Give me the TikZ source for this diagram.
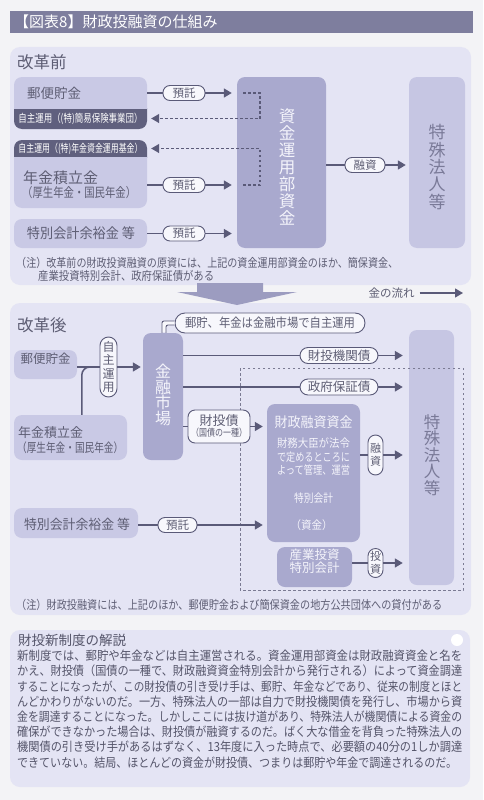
\documentclass[tikz,border=0pt]{standalone}
\usepackage{fontspec}
\usepackage{graphicx}
\setmainfont{Noto Sans CJK JP}
\usetikzlibrary{arrows.meta,fit}
\definecolor{cBg}{HTML}{F3F3F6}
\definecolor{cTitle}{HTML}{7E7E9E}
\definecolor{cPanel}{HTML}{E4E4F4}
\definecolor{cLight}{HTML}{C9C9E5}
\definecolor{cTok}{HTML}{C6C6E3}
\definecolor{cDark}{HTML}{A9A9CE}
\definecolor{cBand}{HTML}{60607E}
\definecolor{cLine}{HTML}{5A5A78}
\definecolor{cText}{HTML}{5E5E74}
\definecolor{cBody}{HTML}{55556A}
\definecolor{cWhiteT}{HTML}{F4F4FB}
\definecolor{cTokT}{HTML}{7A7A98}
\definecolor{cOval}{HTML}{F7F7FC}
\definecolor{cBig}{HTML}{9C9CC0}
\newcommand\fsz[2]{\fontsize{#1}{#2}\selectfont}
\newcommand\sq[2]{\resizebox{#1}{\height}{#2}}
\begin{document}
\begin{tikzpicture}[x=1pt,y=-1pt,
  lbox/.style={fill=cLight, rounded corners=8pt, inner sep=0pt, text=cText},
  dbox/.style={fill=cDark, rounded corners=8pt, inner sep=0pt, text=cWhiteT},
  txt/.style={inner sep=0pt, text=cText},
  oval/.style={draw=cLine, fill=cOval, line width=0.9pt, rounded corners=7pt, inner sep=0pt, text=cText},
  conn/.style={draw=cLine, line width=1.5pt},
  flow/.style={conn, -{Triangle[length=8pt,width=9pt]}},
  back/.style={draw=cLine, line width=1.2pt, dash pattern=on 2.5pt off 2.5pt, -{Triangle[length=8pt,width=9pt]}},
  vert/.style={align=center, inner sep=0pt}]
\useasboundingbox (0,0) rectangle (483,800);
\fill[cBg] (0,0) rectangle (483,800);

% title
\node[fill=cTitle, fit={(10,11) (473,33)}, inner sep=0pt] (titlebar) {};
\node[anchor=west, inner sep=0pt, text=white, font=\fsz{15}{16}] (title) at (14,22) {【図表8】財政投融資の仕組み};

% ===== before panel
\fill[cPanel, rounded corners=10pt] (10,47) rectangle (471,285);
\node[txt, anchor=west, font=\fsz{16.5}{18}] (mae) at (17,62) {改革前};

% yubin (before)
\begin{scope}\clip (10,108) rectangle (150,132); \fill[cBand, rounded corners=8pt] (14,77) rectangle (147,129);\end{scope}
\begin{scope}\clip (10,74) rectangle (150,108); \fill[cLight, rounded corners=8pt] (14,77) rectangle (147,129);\end{scope}
\node[fit={(14,77) (147,108)}, inner sep=0pt] (yubinA) {};
\node[txt, anchor=west, font=\fsz{13.5}{15}] (yubinAt) at (27,93) {郵便貯金};
\node[fit={(14,108) (147,129)}, inner sep=0pt] (band1) {};
\node[txt, text=white] (band1t) at (80.5,118.5) {\sq{124pt}{\fsz{11}{12}自主運用（(特)簡易保険事業団）}};

% nenkin (before)
\begin{scope}\clip (10,137) rectangle (150,157); \fill[cBand, rounded corners=8pt] (14,140) rectangle (147,208);\end{scope}
\begin{scope}\clip (10,157) rectangle (150,211); \fill[cLight, rounded corners=8pt] (14,140) rectangle (147,208);\end{scope}
\node[fit={(14,140) (147,157)}, inner sep=0pt] (band2) {};
\node[txt, text=white] (band2t) at (80.5,148.5) {\sq{124pt}{\fsz{11}{12}自主運用（(特)年金資金運用基金）}};
\node[fit={(14,157) (147,208)}, inner sep=0pt] (nenkinA) {};
\node[txt, anchor=west, font=\fsz{15}{16}] (nenkinAt1) at (23,178) {年金積立金};
\node[txt, anchor=west] (nenkinAt2) at (22,192.5) {\sq{114pt}{\fsz{13}{14}（厚生年金・国民年金）}};

% tokubetsu (before)
\node[lbox, fit={(14,219) (147,248)}] (tokA) {};
\node[txt] (tokAt) at (81,233.5) {\sq{108pt}{\fsz{14}{15}特別会計余裕金 等}};

% central and right boxes
\node[dbox, fit={(237,77) (326,248)}] (shikin) {};
\node[vert, text=cWhiteT, font=\fsz{16.5}{17}] (shikint) at (287,167) {資\\金\\運\\用\\部\\資\\金};
\node[lbox, fill=cTok, fit={(409,77) (465,248)}] (tokuA) {};
\node[vert, text=cTokT, font=\fsz{17}{17.3}] (tokuAt) at (437,167) {特\\殊\\法\\人\\等};

% deposit arrows
\node[oval, minimum width=42pt, minimum height=15pt, font=\fsz{11.5}{12}] (ytk1) at (184,93) {預託};
\node[oval, minimum width=42pt, minimum height=15pt, font=\fsz{11.5}{12}] (ytk2) at (184,185) {預託};
\node[oval, minimum width=42pt, minimum height=15pt, font=\fsz{11.5}{12}] (ytk3) at (184,233.5) {預託};
\draw[conn] (yubinA.east |- ytk1) -- (ytk1.west);
\draw[flow, shorten >=5pt] (ytk1.east) -- (ytk1.east -| shikin.west);
\draw[conn] (nenkinA.east |- ytk2) -- (ytk2.west);
\draw[flow, shorten >=5pt] (ytk2.east) -- (ytk2.east -| shikin.west);
\draw[conn] (tokA.east |- ytk3) -- (ytk3.west);
\draw[flow, shorten >=5pt] (ytk3.east) -- (ytk3.east -| shikin.west);

% dashed return arrows
\coordinate (dA) at (243,93);
\coordinate (dB) at (243,185);
\coordinate (dX) at (260,0);
\draw[back, shorten >=4pt] (dA) -| (dX |- band1.east) -- (band1.east);
\draw[back, shorten >=4pt] (dB) -| (dX |- band2.east) -- (band2.east);

% yushi
\node[oval, minimum width=40pt, minimum height=15pt, font=\fsz{11.5}{12}] (yus1) at (365,165) {融資};
\draw[conn] (shikin.east |- yus1) -- (yus1.west);
\draw[flow, shorten >=3pt] (yus1.east) -- (yus1.east -| tokuA.west);

% note before
\node[txt, anchor=west] (note1) at (16,263) {\sq{382pt}{\fsz{12}{13}（注）改革前の財政投資融資の原資には、上記の資金運用部資金のほか、簡保資金、}};
\node[txt, anchor=west] (note2) at (38,275.5) {\sq{176pt}{\fsz{12}{13}産業投資特別会計、政府保証債がある}};

% ===== after panel
\fill[cPanel, rounded corners=10pt] (10,303) rectangle (471,615);

% big arrow
\fill[cBig] (197,283) -- (263,283) -- (263,292) -- (297,292) -- (237,305) -- (177,292) -- (197,292) -- cycle;

% legend
\node[txt, font=\fsz{11.5}{12}] (legend) at (391.5,293) {金の流れ};
\coordinate (legEnd) at (463,293);
\draw[conn, line width=1.3pt, -{Triangle[length=8pt,width=9pt]}] ([xshift=5pt]legend.east) -- (legEnd);

\node[txt, anchor=west, font=\fsz{16.5}{18}] (go) at (17,325) {改革後};

% market
\node[dbox, fit={(143,333) (183,460)}] (market) {};
\node[vert, text=cWhiteT, font=\fsz{16}{15.5}] (markett) at (163,395) {金\\融\\市\\場};

% callout
\node[oval, minimum width=190pt, minimum height=20pt, rounded corners=10pt] (callout) at (270,323) {\sq{170pt}{\fsz{12.5}{13}郵貯、年金は金融市場で自主運用}};
\fill[cOval] ([xshift=-1pt,yshift=1pt]market.north) |- ([yshift=2pt]callout.west) -- ([yshift=-2pt]callout.west) -| ([xshift=3pt,yshift=1pt]market.north) -- cycle;
\draw[cLine, line width=0.9pt, rounded corners=2pt] ([xshift=-1pt]market.north) |- ([yshift=2pt]callout.west);
\draw[cLine, line width=0.9pt, rounded corners=2pt] ([xshift=3pt]market.north) |- ([yshift=-2pt]callout.west);

% yubin / nenkin after
\node[lbox, fit={(14,350) (77,379)}, font=\fsz{12.5}{13}] (yubinB) {郵便貯金};
\node[lbox, fit={(14,415) (127,460)}] (nenkinB) {};
\node[txt, anchor=west, font=\fsz{13}{14}] (nenkinBt1) at (18,433) {年金積立金};
\node[txt, anchor=west] (nenkinBt2) at (17,447.5) {\sq{106pt}{\fsz{12.5}{13}（厚生年金・国民年金）}};

\node[oval, minimum width=17pt, minimum height=60pt, rounded corners=8.5pt, align=center, font=\fsz{12}{13.3}] (jishu) at (108.5,367) {自\\主\\運\\用};
\coordinate (join) at (98,367);
\draw[conn] (jishu.west -| yubinB.east) -- (jishu.west);
\draw[conn, rounded corners=8pt] ([xshift=68pt]nenkinB.north west) |- (join);
\draw[flow, shorten >=2pt] (jishu.east) -- (jishu.east -| market.west);

% tokushu after
\node[lbox, fill=cTok, fit={(409,330) (454,585)}] (tokuB) {};
\node[vert, text=cTokT, font=\fsz{16.5}{16.5}] (tokuBt) at (432,455) {特\\殊\\法\\人\\等};

% dashed frame
\draw[cLine!80, line width=0.8pt, dash pattern=on 2.5pt off 2.5pt] (240,368) rectangle (463,590);

% bonds
\node[oval, minimum width=78pt, minimum height=16pt, rounded corners=8pt, font=\fsz{12.5}{13}] (kikan) at (339,355.5) {財投機関債};
\node[oval, minimum width=78pt, minimum height=16pt, rounded corners=8pt, font=\fsz{12.5}{13}] (seifu) at (339,387) {政府保証債};
\draw[conn] (market.east |- kikan) -- (kikan.west);
\draw[flow, shorten >=6pt] (kikan.east) -- (kikan.east -| tokuB.west);
\draw[conn] (market.east |- seifu) -- (seifu.west);
\draw[flow, shorten >=6pt] (seifu.east) -- (seifu.east -| tokuB.west);

% zaisei yushi shikin
\node[dbox, fit={(267,404) (360,542)}] (zaisei) {};
\node[txt, text=cWhiteT] (zt1) at (313.5,422) {\sq{78pt}{\fsz{14}{15}財政融資資金}};
\node[txt, text=cWhiteT] (zt2) at (313.5,443) {\sq{73pt}{\fsz{11.5}{12}財務大臣が法令}};
\node[txt, text=cWhiteT] (zt3) at (313.5,457) {\sq{73pt}{\fsz{11.5}{12}で定めるところに}};
\node[txt, text=cWhiteT] (zt4) at (313.5,470.5) {\sq{73pt}{\fsz{11.5}{12}よって管理、運営}};
\node[txt, text=cWhiteT] (zt5) at (313.5,498) {\sq{39pt}{\fsz{11.5}{12}特別会計}};
\node[txt, text=cWhiteT] (zt6) at (311.5,525) {\sq{42pt}{\fsz{11.5}{12}（資金）}};

\node[oval, minimum width=62pt, minimum height=33pt, rounded corners=7pt, align=center] (zaitosai) at (219,426.5) {\fsz{13}{14}財投債\\[-1pt]\sq{56pt}{\fsz{10}{11}（国債の一種）}};
\draw[conn] (market.east |- zaitosai) -- (zaitosai.west);
\draw[flow, shorten >=4pt] (zaitosai.east) -- (zaitosai.east -| zaisei.west);

\node[oval, minimum width=15pt, minimum height=40pt, rounded corners=7.5pt, align=center, font=\fsz{11}{12.5}] (yus2) at (375.5,455) {融\\資};
\draw[conn] (zaisei.east |- yus2) -- (yus2.west);
\draw[flow, shorten >=6pt] (yus2.east) -- (yus2.east -| tokuB.west);

% tokubetsu after
\node[lbox, fit={(14,508) (138,538)}] (tokB) {};
\node[txt] (tokBt) at (77,524) {\sq{106pt}{\fsz{13.5}{14}特別会計余裕金 等}};
\node[oval, minimum width=39pt, minimum height=15pt, font=\fsz{11.5}{12}] (ytk4) at (177.5,525) {預託};
\draw[conn] (tokB.east |- ytk4) -- (ytk4.west);
\draw[flow, shorten >=4pt] (ytk4.east) -- (ytk4.east -| zaisei.west);

% sangyo
\node[dbox, fit={(277,547) (352,587)}, align=center, font=\fsz{12.5}{13}] (sangyo) {産業投資\\特別会計};
\node[oval, minimum width=15pt, minimum height=29pt, rounded corners=7.5pt, align=center, font=\fsz{11}{12.5}] (toushi) at (375.5,563) {投\\資};
\draw[conn] (sangyo.east |- toushi) -- (toushi.west);
\draw[flow, shorten >=6pt] (toushi.east) -- (toushi.east -| tokuB.west);

% note after
\node[txt, anchor=west] (note3) at (16,605) {\sq{426pt}{\fsz{12}{13}（注）財政投融資には、上記のほか、郵便貯金および簡保資金の地方公共団体への貸付がある}};

% ===== explanation panel
\fill[cPanel, rounded corners=10pt] (10,630) rectangle (470,787);
\fill[white] (457,640) circle (6);
\node[txt, anchor=west, text=cBody, font=\fsz{13.5}{14}] (head) at (18,640.5) {財投新制度の解説};
\node[txt, anchor=west, text=cBody] (b1) at (17,656) {\sq{445pt}{\fsz{12.5}{13}新制度では、郵貯や年金などは自主運営される。資金運用部資金は財政融資資金と名を}};
\node[txt, anchor=west, text=cBody] (b2) at (17,671.2) {\sq{445pt}{\fsz{12.5}{13}かえ、財投債（国債の一種で、財政融資資金特別会計から発行される）によって資金調達}};
\node[txt, anchor=west, text=cBody] (b3) at (17,686.4) {\sq{445pt}{\fsz{12.5}{13}することになったが、この財投債の引き受け手は、郵貯、年金などであり、従来の制度とほと}};
\node[txt, anchor=west, text=cBody] (b4) at (17,701.6) {\sq{445pt}{\fsz{12.5}{13}んどかわりがないのだ。一方、特殊法人の一部は自力で財投機関債を発行し、市場から資}};
\node[txt, anchor=west, text=cBody] (b5) at (17,716.8) {\sq{445pt}{\fsz{12.5}{13}金を調達することになった。しかしここには抜け道があり、特殊法人が機関債による資金の}};
\node[txt, anchor=west, text=cBody] (b6) at (17,732) {\sq{445pt}{\fsz{12.5}{13}確保ができなかった場合は、財投債が融資するのだ。ばく大な借金を背負った特殊法人の}};
\node[txt, anchor=west, text=cBody] (b7) at (17,747.2) {\sq{445pt}{\fsz{12.5}{13}機関債の引き受け手があるはずなく、13年度に入った時点で、必要額の40分の1しか調達}};
\node[txt, anchor=west, text=cBody] (b8) at (17,762.4) {\sq{440pt}{\fsz{12.5}{13}できていない。結局、ほとんどの資金が財投債、つまりは郵貯や年金で調達されるのだ。}};
\end{tikzpicture}
\end{document}
